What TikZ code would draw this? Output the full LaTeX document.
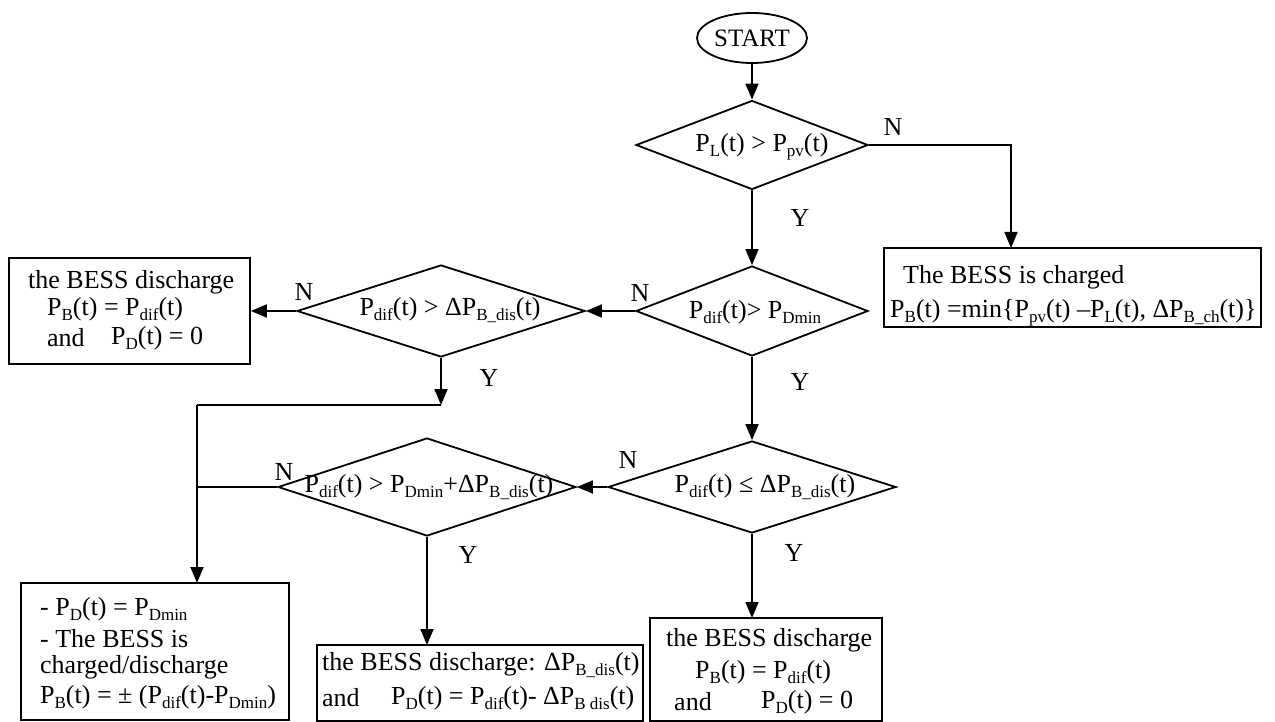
\documentclass[tikz,border=0pt]{standalone}
\usepackage{fontspec}
\setmainfont{Liberation Serif}
\usetikzlibrary{shapes.geometric,arrows.meta}
\newcommand{\sbx}[1]{\raisebox{-0.2em}{\fontsize{17pt}{17pt}\selectfont #1}}
\tikzset{
  every node/.style={font=\fontsize{26pt}{30pt}\selectfont},
  ln/.style={line width=1.8pt},
  arr/.style={line width=1.8pt,-{Triangle[length=16pt,width=13pt]}},
  dia/.style={draw,line width=1.8pt,diamond,inner sep=0pt},
  boxx/.style={draw,line width=1.8pt,rectangle,inner sep=0pt},
  txt/.style={inner sep=0pt,anchor=west},
  lab/.style={inner sep=0pt},
}
\begin{document}
\begin{tikzpicture}[x=1pt,y=-1pt]
\useasboundingbox (0,0) rectangle (1275,722);
% shapes
\node[draw,ellipse,line width=1.8pt,minimum width=110pt,minimum height=50pt,inner sep=0pt,font=\fontsize{25pt}{30pt}\selectfont] (start) at (752,38) {START};
\node[dia,minimum width=232pt,minimum height=89pt] (d1) at (752,145) {};
\node[dia,minimum width=232pt,minimum height=90pt] (d2) at (752,311) {};
\node[dia,minimum width=288pt,minimum height=92pt] (d3) at (441,311) {};
\node[dia,minimum width=288pt,minimum height=92pt] (d4) at (752,487) {};
\node[dia,minimum width=298pt,minimum height=98pt] (d5) at (427,487) {};
\node[boxx,minimum width=377pt,minimum height=79pt] (b1) at (1072.5,287.5) {};
\node[boxx,minimum width=241pt,minimum height=106pt] (b2) at (129.5,311) {};
\node[boxx,minimum width=268pt,minimum height=137pt] (b5) at (155,651.5) {};
\node[boxx,minimum width=326pt,minimum height=76pt] (b6) at (480,683) {};
\node[boxx,minimum width=232pt,minimum height=103pt] (b7) at (766,669.5) {};
% diamond texts
\node[lab] (d1t) at (762,147) {P\sbx{L}(t) > P\sbx{pv}(t)};
\node[lab] (d2t) at (755,312) {P\sbx{dif}(t)> P\sbx{Dmin}};
\node[lab] (d3t) at (450,310) {P\sbx{dif}(t) > ΔP\sbx{B\_dis}(t)};
\node[lab] (d4t) at (765,487) {P\sbx{dif}(t) ≤ ΔP\sbx{B\_dis}(t)};
\node[lab] (d5t) at (429,487) {P\sbx{dif}(t) > P\sbx{Dmin}+ΔP\sbx{B\_dis}(t)};
% box texts
\node[txt] (b1a) at (903,277) {The BESS is charged};
\node[txt] (b1b) at (890,313) {P\sbx{B}(t) =min\{P\sbx{pv}(t) –P\sbx{L}(t), ΔP\sbx{B\_ch}(t)\}};
\node[txt] (b2a) at (28,282) {the BESS discharge};
\node[txt] (b2b) at (47,309) {P\sbx{B}(t) = P\sbx{dif}(t)};
\node[txt] (b2c) at (47,338) {and};
\node[txt] (b2d) at (111,338) {P\sbx{D}(t) = 0};
\node[txt] (b5a) at (40,609) {- P\sbx{D}(t) = P\sbx{Dmin}};
\node[txt] (b5b) at (40,639) {- The BESS is};
\node[txt] (b5c) at (40,667) {charged/discharge};
\node[txt] (b5d) at (40,697) {P\sbx{B}(t) = ± (P\sbx{dif}(t)-P\sbx{Dmin})};
\node[txt] (b6a) at (322,665) {the BESS discharge: ΔP\sbx{B\_dis}(t)};
\node[txt] (b6b) at (322,698) {and};
\node[txt] (b6c) at (391,698) {P\sbx{D}(t) = P\sbx{dif}(t)- ΔP\sbx{B dis}(t)};
\node[txt] (b7a) at (666,640) {the BESS discharge};
\node[txt] (b7b) at (695,672) {P\sbx{B}(t) = P\sbx{dif}(t)};
\node[txt] (b7c) at (674,702) {and};
\node[txt] (b7d) at (761,702) {P\sbx{D}(t) = 0};
% labels
\node[lab] (n1) at (893,127) {N};
\node[lab] (y1) at (800,218) {Y};
\node[lab] (n2) at (640,293) {N};
\node[lab] (y2) at (800,382) {Y};
\node[lab] (n3) at (304,292) {N};
\node[lab] (y3) at (489,378) {Y};
\node[lab] (n4) at (628,460) {N};
\node[lab] (y4) at (794,553) {Y};
\node[lab] (n5) at (284,472) {N};
\node[lab] (y5) at (468,555) {Y};
% coordinates
\coordinate (b1in) at (1011,248);
\coordinate (j1) at (441,405);
\coordinate (j2) at (197,405);
\coordinate (b5in) at (197,583);
\coordinate (b6in) at (427,645);
\coordinate (b7in) at (752,618);
% connectors
\draw[arr] (start.south) -- (d1.north);
\draw[arr] (d1.east) -| (b1in);
\draw[arr] (d1.south) -- (d2.north);
\draw[arr] (d2.west) -- (d3.east);
\draw[arr] (d3.west) -- (d3.west -| b2.east);
\draw[arr] (d3.south) -- (j1);
\draw[ln] (j1) -- (j2);
\draw[arr] (j2) -- (b5in);
\draw[ln] (d5.west) -- (d5.west -| j2);
\draw[arr] (d2.south) -- (d4.north);
\draw[arr] (d4.west) -- (d5.east);
\draw[arr] (d5.south) -- (b6in);
\draw[arr] (d4.south) -- (b7in);
\end{tikzpicture}
\end{document}
